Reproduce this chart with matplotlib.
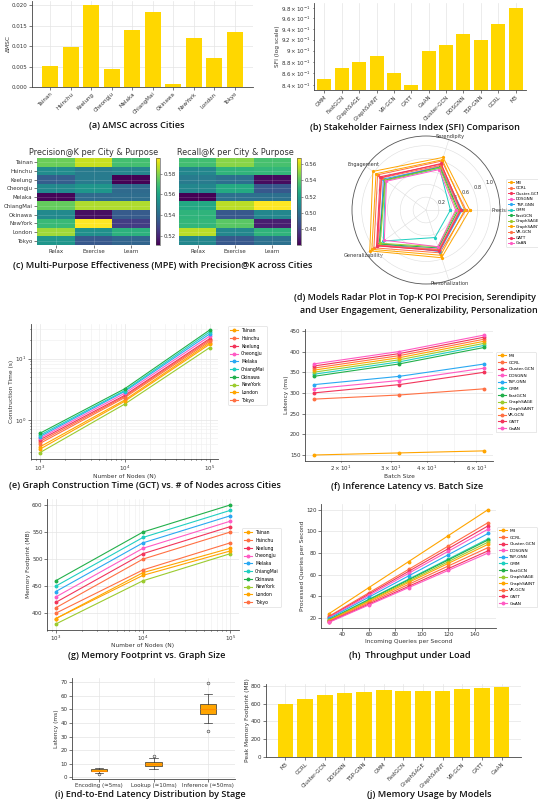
import matplotlib
matplotlib.use('Agg')
import matplotlib.pyplot as plt
import numpy as np

W, H = 538, 805

# ---- data ----
cities = ['Tainan', 'Hsinchu', 'Keelung', 'Cheongju', 'Melaka',
          'ChiangMai', 'Okinawa', 'NewYork', 'London', 'Tokyo']
delta_msc = [0.0051, 0.0098, 0.0200, 0.0045, 0.0138,
             0.0184, 0.0007, 0.0120, 0.0070, 0.0134]

sfi_models = ['GMM', 'FastGCN', 'GraphSAGE', 'GraphSAINT', 'VR-GCN', 'GATT',
              'GaAN', 'Cluster-GCN', 'DDSGNN', 'TSP-GNN', 'GCRL', 'M3']
sfi_values = [0.85, 0.87, 0.88, 0.89, 0.86, 0.84,
              0.90, 0.91, 0.93, 0.92, 0.95, 0.98]

purposes = ['Relax', 'Exercise', 'Learn']
precision_k = [[0.576, 0.588, 0.570],
               [0.552, 0.546, 0.549],
               [0.536, 0.546, 0.511],
               [0.551, 0.555, 0.540],
               [0.512, 0.540, 0.541],
               [0.575, 0.585, 0.585],
               [0.551, 0.514, 0.535],
               [0.568, 0.595, 0.526],
               [0.583, 0.553, 0.565],
               [0.555, 0.534, 0.538]]
recall_k = [[0.535, 0.548, 0.536],
            [0.510, 0.530, 0.531],
            [0.505, 0.500, 0.464],
            [0.510, 0.526, 0.490],
            [0.461, 0.500, 0.500],
            [0.525, 0.556, 0.567],
            [0.530, 0.490, 0.510],
            [0.531, 0.540, 0.470],
            [0.556, 0.510, 0.530],
            [0.510, 0.490, 0.500]]

models = ['M3', 'GCRL', 'Cluster-GCN', 'DDSGNN', 'TSP-GNN', 'GMM',
          'FastGCN', 'GraphSAGE', 'GraphSAINT', 'VR-GCN', 'GATT', 'GaAN']
radar_axes = ['Precision', 'Serendipity', 'Engagement',
              'Generalizability', 'Personalization']
radar_scores = [[0.68, 0.86, 1.02, 1.08, 0.78],
                [0.62, 0.80, 0.93, 1.00, 0.70],
                [0.55, 0.75, 0.88, 0.95, 0.66],
                [0.52, 0.72, 0.80, 0.92, 0.64],
                [0.56, 0.70, 0.82, 0.88, 0.68],
                [0.38, 0.68, 0.78, 0.82, 0.45],
                [0.50, 0.70, 0.79, 0.90, 0.62],
                [0.48, 0.69, 0.78, 0.88, 0.60],
                [0.60, 0.82, 0.96, 1.04, 0.74],
                [0.53, 0.73, 0.85, 0.93, 0.65],
                [0.54, 0.76, 0.86, 0.94, 0.67],
                [0.46, 0.66, 0.76, 0.80, 0.60]]

num_nodes = [1000, 10000, 100000]
gct_times = [[0.36, 2.1, 18], [0.44, 2.4, 20], [0.47, 2.5, 21],
             [0.50, 2.7, 23], [0.53, 2.9, 25], [0.56, 3.0, 27],
             [0.60, 3.2, 29], [0.29, 1.8, 15], [0.33, 2.0, 17],
             [0.41, 2.3, 19]]

batch_sizes = [16, 32, 64]
latency_ms = [[150, 155, 160], [285, 295, 310], [300, 320, 350],
              [310, 330, 360], [320, 340, 370], [345, 375, 415],
              [340, 370, 410], [350, 380, 420], [355, 385, 425],
              [360, 390, 430], [365, 395, 435], [370, 400, 440]]

memory_mb = [[390, 475, 520], [410, 500, 550], [420, 510, 560],
             [430, 520, 570], [440, 530, 580], [450, 540, 590],
             [460, 550, 600], [380, 460, 510], [390, 470, 515],
             [400, 480, 530]]

incoming_qps = [30, 60, 90, 120, 150]
processed_qps = [[24, 48, 72, 96, 120],
                 [21.6, 43.2, 64.8, 86.4, 108],
                 [21, 42, 63, 84, 105],
                 [20.4, 40.8, 61.2, 81.6, 102],
                 [19.6, 39.2, 58.8, 78.4, 98],
                 [18.6, 37.2, 55.8, 74.4, 93],
                 [18.4, 36.8, 55.2, 73.6, 92],
                 [18, 36, 54, 72, 90],
                 [17.6, 35.2, 52.8, 70.4, 88],
                 [17, 34, 51, 68, 85],
                 [16.4, 32.8, 49.2, 65.6, 82],
                 [16, 32, 48, 64, 80]]

stages = ['Encoding (≈5ms)', 'Lookup (≈10ms)', 'Inference (≈50ms)']
stage_med = [5.0, 10.0, 50.5]
stage_q1 = [4.4, 8.5, 47.0]
stage_q3 = [6.0, 11.4, 54.0]
stage_lo = [3.2, 6.1, 40.0]
stage_hi = [6.8, 14.6, 61.5]
stage_fliers = [[2.2], [15.6], [34.0, 69.8]]

mem_models = models
peak_memory = [600, 650, 700, 720, 730, 750, 740, 735, 745, 760, 770, 780]

PAL = ['#FFA500', '#FF7043', '#F2355B', '#FF5BC4',
       '#2AA8F2', '#1FCFC1', '#22B04B', '#9BCB2F']
BAR = '#FFD700'

plt.rcParams.update({
    'font.size': 4,
    'axes.linewidth': 0.6,
    'axes.edgecolor': '#444444',
    'axes.labelsize': 4.2,
    'axes.labelpad': 0.8,
    'xtick.labelsize': 4,
    'ytick.labelsize': 4,
    'xtick.major.size': 2,
    'ytick.major.size': 2,
    'xtick.minor.size': 1,
    'ytick.minor.size': 1,
    'xtick.major.width': 0.5,
    'ytick.major.width': 0.5,
    'xtick.major.pad': 1.2,
    'ytick.major.pad': 1.2,
    'xtick.minor.pad': 1.2,
    'ytick.minor.pad': 1.2,
    'xtick.color': '#444444',
    'ytick.color': '#444444',
    'xtick.labelcolor': '#333333',
    'ytick.labelcolor': '#333333',
    'axes.labelcolor': '#333333',
    'grid.color': '#e4e4e4',
    'grid.linewidth': 0.5,
    'lines.linewidth': 0.8,
    'lines.markersize': 1.8,
    'legend.fontsize': 3.3,
})

fig = plt.figure(figsize=(W / 100, H / 100), dpi=100)


def px_axes(x0, y0, x1, y1, **kw):
    return fig.add_axes([x0 / W, 1 - y1 / H, (x1 - x0) / W, (y1 - y0) / H], **kw)


def tidy(ax):
    ax.spines['top'].set_visible(False)
    ax.spines['right'].set_visible(False)
    ax.set_axisbelow(True)
    ax.grid(True)


def caption(cx, cy, text, fs=6.6):
    fig.text(cx / W, 1 - cy / H, text, ha='center', va='center',
             fontsize=fs, fontweight='semibold', family='Open Sans',
             color='#111111')


def side_legend(ax, x, y, fs=3.3):
    leg = ax.legend(loc='upper left', bbox_to_anchor=(x / W, 1 - y / H),
                    bbox_transform=fig.transFigure, frameon=True, fontsize=fs,
                    handlelength=1.8, borderpad=0.45, labelspacing=0.6,
                    handletextpad=0.6, borderaxespad=0)
    leg.get_frame().set_linewidth(0.4)
    leg.get_frame().set_edgecolor('#cccccc')
    return leg


# (a) delta MSC
ax = px_axes(32, 1, 253, 87)
tidy(ax)
ax.bar(cities, delta_msc, color=BAR, width=0.8)
ax.set_ylabel('ΔMSC')
ax.set_xticks(range(len(cities)))
ax.set_xticklabels(cities, rotation=45, ha='right', rotation_mode='anchor')
caption(137, 126, '(a) ΔMSC across Cities')

# (b) SFI log scale
ax = px_axes(314, 3, 526, 90)
tidy(ax)
ax.bar(sfi_models, sfi_values, color=BAR, width=0.8)
ax.set_yscale('log')
ax.set_ylim(0.832, 0.99)
ax.set_xlim(-0.6, 11.6)
ax.set_ylabel('SFI (log scale)')
ax.set_xticks(range(len(sfi_models)))
ax.set_xticklabels(sfi_models, rotation=45, ha='right', rotation_mode='anchor')
caption(415, 128, '(b) Stakeholder Fairness Index (SFI) Comparison')

# (c) heatmaps
for i, (vals, title, box, cbox) in enumerate([
        (precision_k, 'Precision@K per City & Purpose',
         (37, 158, 150, 245), (156, 158, 160, 245)),
        (recall_k, 'Recall@K per City & Purpose',
         (179, 158, 291, 245), (297, 158, 301, 245))]):
    ax = px_axes(*box)
    im = ax.imshow(np.array(vals), cmap='viridis', aspect='auto')
    ax.set_title(title, fontsize=5.9, pad=2, color='#333333')
    ax.set_xticks(range(len(purposes)))
    ax.set_xticklabels(purposes)
    ax.set_yticks(range(len(cities)))
    if i == 0:
        ax.set_yticklabels(cities)
    else:
        ax.set_yticklabels([])
        ax.tick_params(axis='y', length=0)
    ax.grid(True, color='white', alpha=0.25, linewidth=0.4)
    for s in ax.spines.values():
        s.set_visible(False)
    cax = px_axes(*cbox)
    cb = fig.colorbar(im, cax=cax)
    cb.outline.set_linewidth(0.4)
    cb.ax.tick_params(labelsize=4, length=1.5, width=0.4)
caption(163, 266, '(c) Multi-Purpose Effectiveness (MPE) with Precision@K across Cities')

# (d) radar
ax = px_axes(351, 136, 501, 284, projection='polar')
angles = np.linspace(0, 2 * np.pi, len(radar_axes), endpoint=False).tolist()
for k, (name, sc) in enumerate(zip(models, radar_scores)):
    ax.plot(angles + angles[:1], sc + sc[:1], color=PAL[k % 8],
            marker='o', linewidth=0.7, markersize=1.3, label=name)
ax.set_xticks(angles)
ax.set_xticklabels(radar_axes, fontsize=3.6)
ax.tick_params(axis='x', pad=-7)
ax.set_ylim(0, 1.15)
ax.set_yticks([0.2, 0.4, 0.6, 0.8, 1.0])
ax.set_yticklabels(['0.2', '0.4', '0.6', '0.8', '1.0'], fontsize=3.6)
ax.grid(True, color='#dddddd', linewidth=0.4)
ax.spines['polar'].set_linewidth(0.6)
ax.spines['polar'].set_color('#555555')
leg = ax.legend(loc='upper left', bbox_to_anchor=(506 / W, 1 - 179 / H),
                bbox_transform=fig.transFigure, fontsize=2.9,
                handlelength=1.6, handletextpad=0.5, labelspacing=0.38,
                borderpad=0.4, borderaxespad=0)
leg.get_frame().set_linewidth(0.4)
leg.get_frame().set_edgecolor('#cccccc')
caption(415, 297, '(d) Models Radar Plot in Top-K POI Precision, Serendipity', fs=6.4)
caption(419, 310, 'and User Engagement, Generalizability, Personalization', fs=6.4)

# (e) GCT
ax = px_axes(31, 324, 218, 459)
tidy(ax)
for k, (c, v) in enumerate(zip(cities, gct_times)):
    ax.plot(num_nodes, v, marker='o', color=PAL[k % 8], label=c)
ax.set_xscale('log')
ax.set_yscale('log')
ax.grid(True, which='minor', color='#eeeeee', linewidth=0.4)
ax.set_xlabel('Number of Nodes (N)')
ax.set_ylabel('Construction Time (s)')
side_legend(ax, 228, 326)
caption(145, 485, '(e) Graph Construction Time (GCT) vs. # of Nodes across Cities')

# (f) latency vs batch size
ax = px_axes(305, 329, 493, 461)
tidy(ax)
for k, (m, v) in enumerate(zip(models, latency_ms)):
    ax.plot(batch_sizes, v, marker='o', color=PAL[k % 8], label=m)
ax.set_xscale('log')
ax.grid(True, which='minor', color='#eeeeee', linewidth=0.4)
ax.set_xlabel('Batch Size')
ax.set_ylabel('Latency (ms)')
side_legend(ax, 496, 352, fs=3.1)
caption(407, 486, '(f) Inference Latency vs. Batch Size')

# (g) memory footprint
ax = px_axes(47, 499, 239, 630)
tidy(ax)
for k, (c, v) in enumerate(zip(cities, memory_mb)):
    ax.plot(num_nodes, v, marker='o', color=PAL[k % 8], label=c)
ax.set_xscale('log')
ax.grid(True, which='minor', color='#eeeeee', linewidth=0.4)
ax.tick_params(axis='x', which='both', pad=0.6)
ax.set_xlabel('Number of Nodes (N)', labelpad=0.3)
ax.set_ylabel('Memory Footprint (MB)')
side_legend(ax, 242, 528)
caption(147, 655, '(g) Memory Footprint vs. Graph Size')

# (h) throughput
ax = px_axes(321, 504, 496, 628)
tidy(ax)
for k, (m, v) in enumerate(zip(models, processed_qps)):
    ax.plot(incoming_qps, v, marker='o', color=PAL[k % 8], label=m)
ax.set_xlabel('Incoming Queries per Second')
ax.set_ylabel('Processed Queries per Second')
side_legend(ax, 497, 527, fs=3.1)
caption(410, 655, '(h)  Throughput under Load')

# (i) latency box plot
ax = px_axes(72, 678, 235, 779)
tidy(ax)
stats = []
for lbl, med, q1, q3, lo, hi, fl in zip(stages, stage_med, stage_q1, stage_q3,
                                        stage_lo, stage_hi, stage_fliers):
    stats.append(dict(label=lbl, med=med, q1=q1, q3=q3,
                      whislo=lo, whishi=hi, fliers=fl))
ax.bxp(stats, widths=0.3, patch_artist=True,
       boxprops=dict(facecolor='#FFA500', edgecolor='#333333', linewidth=0.5),
       medianprops=dict(color='#FF8C00', linewidth=0.8),
       whiskerprops=dict(linewidth=0.5, color='#333333'),
       capprops=dict(linewidth=0.5, color='#333333'),
       flierprops=dict(marker='o', markersize=2, markerfacecolor='none',
                       markeredgewidth=0.4, markeredgecolor='#333333'))
ax.set_ylabel('Latency (ms)')
caption(150, 794, '(i) End-to-End Latency Distribution by Stage')

# (j) memory by models
ax = px_axes(266, 684, 521, 757)
tidy(ax)
ax.bar(mem_models, peak_memory, color=BAR, width=0.8)
ax.set_ylabel('Peak Memory Footprint (MB)')
ax.set_xticks(range(len(mem_models)))
ax.set_xticklabels(mem_models, rotation=45, ha='right', rotation_mode='anchor')
caption(429, 794, '(j) Memory Usage by Models')

fig.savefig('out.png', dpi=100)
